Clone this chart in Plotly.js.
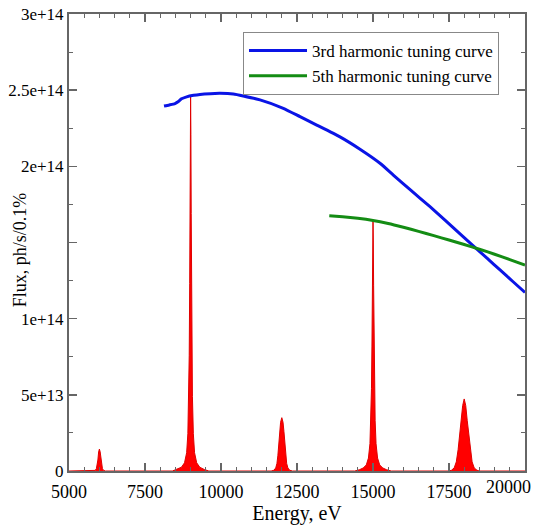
<!DOCTYPE html>
<html>
<head>
<meta charset="utf-8">
<script src="https://cdn.plot.ly/plotly-3.0.1.min.js"></script>
<style>html,body{margin:0;padding:0;background:#fff;}#chart{width:537px;height:525px;}</style>
</head>
<body>
<div id="chart"></div>
<script>
// 3rd harmonic tuning curve (energy eV, flux ph/s/0.1%)
var blueE = [8125, 8300, 8487, 8600, 8700, 8870, 9100, 9309, 9650, 9967, 10405, 10734, 11283, 12050, 12599, 13148, 13914, 14572, 15230, 15668, 16250, 16875, 17368, 17800, 18289, 18750, 19178, 19600, 20000];
var blueF = [2.396e14, 2.403e14, 2.412e14, 2.425e14, 2.443e14, 2.456e14, 2.466e14, 2.472e14, 2.477e14, 2.479e14, 2.475e14, 2.462e14, 2.436e14, 2.381e14, 2.326e14, 2.271e14, 2.193e14, 2.112e14, 2.020e14, 1.943e14, 1.842e14, 1.735e14, 1.647e14, 1.568e14, 1.480e14, 1.397e14, 1.320e14, 1.244e14, 1.172e14];
// 5th harmonic tuning curve
var greenE = [13562, 14000, 14500, 15000, 15500, 16000, 16500, 17000, 17500, 18000, 18500, 19000, 19500, 20000];
var greenF = [1.676e14, 1.669e14, 1.659e14, 1.645e14, 1.625e14, 1.600e14, 1.573e14, 1.545e14, 1.516e14, 1.487e14, 1.456e14, 1.423e14, 1.388e14, 1.352e14];
// red spectrum peaks
var peak1E = [5000, 5800, 5860, 5900, 5925, 5950, 5975, 6000, 6025, 6050, 6075, 6100, 6140, 6200];
var peak1F = [0, 0, 0.4e12, 1.5e12, 3.5e12, 7.2e12, 12.5e12, 14.4e12, 12.5e12, 7.2e12, 3.5e12, 1.5e12, 0.4e12, 0];
var peak2E = [8400, 8550, 8700, 8800, 8870, 8910, 8940, 8955, 8970, 8980, 8990, 9000, 9010, 9020, 9030, 9045, 9060, 9090, 9130, 9200, 9300, 9450, 9600];
var peak2F = [0, 1.0e12, 2.5e12, 5.4e12, 12e12, 24.5e12, 49e12, 76e12, 123e12, 169e12, 221e12, 245.5e12, 221e12, 169e12, 123e12, 76e12, 49e12, 24.5e12, 12e12, 5.4e12, 2.5e12, 1.0e12, 0];
var peak3E = [11650, 11740, 11800, 11840, 11870, 11900, 11930, 11960, 12000, 12040, 12070, 12100, 12130, 12160, 12200, 12260, 12350];
var peak3F = [0, 0.5e12, 2e12, 5e12, 10e12, 17.5e12, 26e12, 32e12, 35e12, 32e12, 26e12, 17.5e12, 10e12, 5e12, 2e12, 0.5e12, 0];
var peak4E = [14400, 14550, 14680, 14780, 14850, 14900, 14930, 14950, 14965, 14980, 14990, 15000, 15010, 15020, 15035, 15050, 15070, 15100, 15150, 15220, 15320, 15450, 15600];
var peak4F = [0, 0.8e12, 2e12, 4e12, 8.5e12, 18e12, 33e12, 54e12, 82e12, 122e12, 151e12, 164.3e12, 151e12, 122e12, 82e12, 54e12, 33e12, 18e12, 8.5e12, 4e12, 2e12, 0.8e12, 0];
var peak5E = [17500, 17580, 17670, 17740, 17800, 17850, 17900, 17950, 18000, 18050, 18100, 18150, 18200, 18260, 18330, 18420, 18500, 20000];
var peak5F = [0, 0.5e12, 2e12, 6e12, 14e12, 23.6e12, 33e12, 43e12, 47.3e12, 43e12, 33e12, 23.6e12, 14e12, 6e12, 2e12, 0.5e12, 0, 0];
// axis ticks
var yTickVals = [0, 5e13, 1e14, 1.5e14, 2e14, 2.5e14, 3e14];
var yTickText = ['0', '5e+13', '1e+14', '', '2e+14', '2.5e+14', '3e+14'];
var xTickVals = [5000, 7500, 10000, 12500, 15000, 17500, 20000];
var xTickText = ['5000', '7500', '10000', '12500', '15000', '17500', ''];

var redE = peak1E.concat(peak2E, peak3E, peak4E, peak5E);
var redF = peak1F.concat(peak2F, peak3F, peak4F, peak5F);

var serif = 'Liberation Serif, Times New Roman, serif';
var traces = [
  {x: redE, y: redF, type: 'scatter', mode: 'lines', fill: 'tozeroy', fillcolor: '#ff0000',
   line: {color: '#e00000', width: 1}, showlegend: false, hoverinfo: 'skip'},
  {x: blueE, y: blueF, type: 'scatter', mode: 'lines', name: '3rd harmonic tuning curve',
   line: {color: '#0a14e6', width: 3, shape: 'spline', smoothing: 0.5}},
  {x: greenE, y: greenF, type: 'scatter', mode: 'lines', name: '5th harmonic tuning curve',
   line: {color: '#148c14', width: 3, shape: 'spline', smoothing: 0.5}}
];
var axisCommon = {
  showgrid: false, zeroline: false, showline: true, linecolor: '#666', linewidth: 2,
  mirror: 'ticks', ticks: 'inside', ticklen: 8, tickwidth: 1.5, tickcolor: '#666'
};
var layout = {
  width: 537, height: 525,
  margin: {l: 69, r: 12, t: 14, b: 54},
  paper_bgcolor: '#fff', plot_bgcolor: '#fff',
  font: {family: serif, color: '#000'},
  xaxis: Object.assign({}, axisCommon, {
    range: [5000, 20000], tickvals: xTickVals, ticktext: xTickText,
    tickfont: {family: serif, size: 18, color: '#000'}, ticklabelstandoff: 3,
    minor: {dtick: 500, ticks: 'inside', ticklen: 4, tickcolor: '#666', tickwidth: 1},
    title: {text: 'Energy, eV', font: {family: serif, size: 20, color: '#000'}, standoff: 2}
  }),
  yaxis: Object.assign({}, axisCommon, {
    range: [0, 3e14], tickvals: yTickVals, ticktext: yTickText,
    tickfont: {family: serif, size: 17, color: '#000'},
    minor: {dtick: 2.5e13, ticks: 'inside', ticklen: 4, tickcolor: '#666', tickwidth: 1}
  }),
  legend: {x: 0.3816, y: 0.9606, xanchor: 'left', yanchor: 'top', bgcolor: '#fff',
    bordercolor: '#888', borderwidth: 1, itemwidth: 58, tracegroupgap: 0,
    font: {family: serif, size: 17, color: '#000'}},
  annotations: [
    {text: '20000', xref: 'x', yref: 'paper', x: 20000, y: 0, xanchor: 'right', yanchor: 'top',
     xshift: 8, yshift: -4, showarrow: false, font: {family: serif, size: 18, color: '#000'}},
    {text: 'Flux, ph/s/0.1%', xref: 'paper', yref: 'paper', x: -0.107, y: 0.4836, textangle: -90,
     xanchor: 'center', yanchor: 'middle', showarrow: false, font: {family: serif, size: 18, color: '#000'}}
  ],
  showlegend: true
};
Plotly.newPlot('chart', traces, layout, {displayModeBar: false, staticPlot: true});
</script>
</body>
</html>
